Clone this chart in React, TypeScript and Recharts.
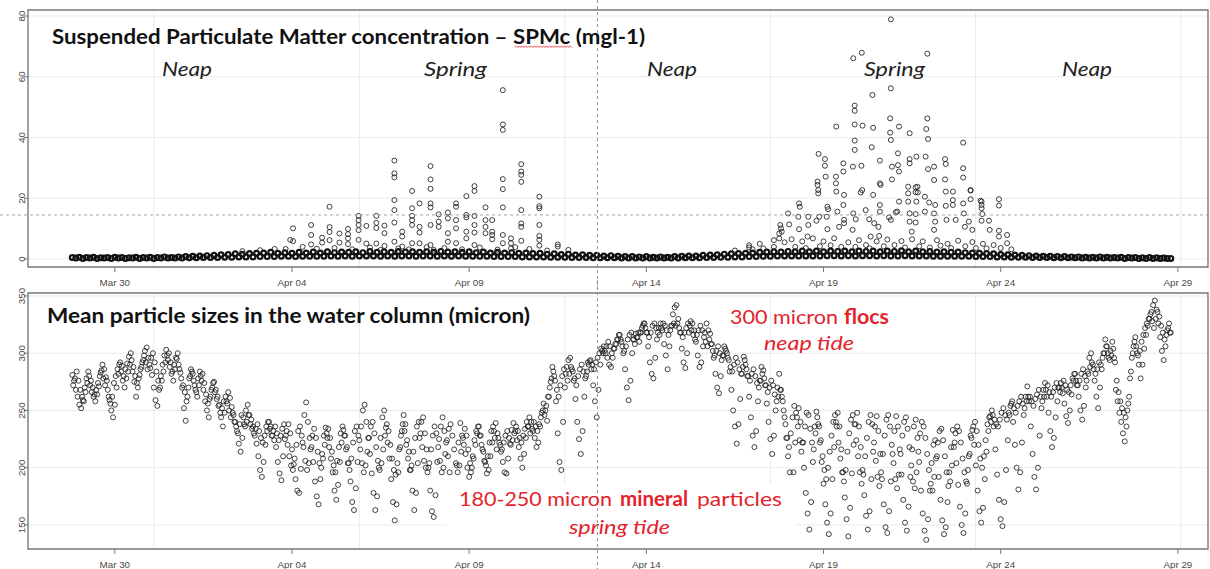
import React from 'react';
import { ScatterChart, Scatter, XAxis, YAxis, CartesianGrid, ReferenceLine, ReferenceArea } from 'recharts';

// ---------- shared time axis (days since Mar 30, 00:00) ----------
const dayTicks = [0, 5, 10, 15, 20, 25, 30];
const dayTickLabels = ['Mar 30', 'Apr 04', 'Apr 09', 'Apr 14', 'Apr 19', 'Apr 24', 'Apr 29'];
const gridDays = [1.1, 6.9, 12.7, 18.5, 24.29, 30.08];
const xDomain: [number, number] = [-2.45, 30.85];
const splitDay = 13.62;

// ---------- SPMc panel ----------
const spmTicks = [0, 20, 40, 60, 80];
const spmDomain: [number, number] = [-2.63, 81.98];
const spmThreshold = 14.5;
const spmBaseStart = -1.2;
const spmBaseStep = 0.1;
const spmBase = [
  0.5, 0.3, 0.6, 0.2, 0.5, 0.3, 0.6, 0.2, 0.4, 0.3,
  0.5, 0.2, 0.6, 0.3, 0.5, 0.2, 0.4, 0.3, 0.6, 0.2,
  0.5, 0.3, 0.6, 0.2, 0.5, 0.3, 0.7, 0.3, 0.5, 0.3,
  0.7, 0.3, 0.8, 0.4, 0.9, 0.4, 1.0, 0.5, 1.1, 0.5,
  1.2, 0.5, 1.4, 0.6, 1.5, 0.6, 1.7, 0.7, 1.6, 0.7,
  1.8, 0.7, 1.9, 0.8, 2.0, 0.8, 2.2, 0.8, 1.9, 0.9,
  2.1, 0.9, 1.9, 0.8, 2.2, 0.9, 2.0, 0.9, 2.3, 0.9,
  2.0, 0.9, 2.4, 1.0, 2.1, 0.9, 2.3, 1.0, 2.2, 0.9,
  2.4, 1.0, 2.1, 1.0, 2.5, 1.0, 2.2, 0.9, 2.4, 1.0,
  2.2, 0.9, 2.5, 1.0, 2.3, 1.0, 2.4, 0.9, 2.2, 1.0,
  2.4, 1.0, 2.2, 0.9, 2.5, 1.0, 2.3, 0.9, 2.4, 1.0,
  2.2, 0.9, 2.4, 0.9, 2.1, 0.9, 2.3, 0.9, 2.0, 0.8,
  2.2, 0.8, 2.0, 0.8, 2.1, 0.8, 1.9, 0.7, 2.0, 0.7,
  1.8, 0.7, 1.9, 0.7, 1.6, 0.6, 1.7, 0.6, 1.5, 0.6,
  1.6, 0.5, 1.3, 0.5, 1.4, 0.5, 1.2, 0.4, 1.2, 0.4,
  1.0, 0.4, 1.1, 0.4, 0.9, 0.3, 0.8, 0.3, 0.8, 0.3,
  0.7, 0.3, 0.8, 0.3, 0.6, 0.3, 0.7, 0.3, 0.6, 0.3,
  0.8, 0.3, 0.9, 0.4, 1.0, 0.4, 1.0, 0.4, 1.2, 0.5,
  1.3, 0.5, 1.4, 0.6, 1.6, 0.6, 1.7, 0.7, 1.8, 0.7,
  1.9, 0.8, 2.0, 0.8, 2.2, 0.9, 2.3, 0.9, 2.4, 1.0,
  2.3, 1.0, 2.5, 1.0, 2.4, 1.0, 2.6, 1.0, 2.4, 1.0,
  2.6, 1.0, 2.4, 1.1, 2.6, 1.1, 2.5, 1.0, 2.6, 1.1,
  2.4, 1.0, 2.6, 1.1, 2.5, 1.1, 2.6, 1.0, 2.4, 1.1,
  2.6, 1.0, 2.5, 1.0, 2.7, 1.1, 2.4, 1.0, 2.6, 1.0,
  2.4, 1.0, 2.5, 0.9, 2.3, 0.9, 2.4, 0.9, 2.2, 0.9,
  2.3, 0.9, 2.1, 0.9, 2.0, 0.8, 1.9, 0.8, 1.8, 0.8,
  1.7, 0.7, 1.5, 0.7, 1.4, 0.6, 1.3, 0.6, 1.2, 0.6,
  1.1, 0.5, 1.0, 0.5, 0.9, 0.5, 0.9, 0.4, 0.8, 0.4,
  0.8, 0.4, 0.7, 0.4, 0.7, 0.3, 0.6, 0.3, 0.6, 0.3,
  0.7, 0.3, 0.6, 0.3, 0.5, 0.3, 0.6, 0.2, 0.5, 0.3,
  0.5, 0.2, 0.4, 0.2, 0.5, 0.2, 0.4, 0.2, 0.3, 0.2, 0.2,
];
// [day, mg/l] scattered spring-tide points (first spring)
const spmSpring1 = [
  [3.6, 2.6], [4.1, 2.9], [4.51, 3.3], [4.82, 3.3], [4.95, 6.3], [5.03, 10.1], [5.03, 5.9], [5.3, 4.0],
  [5.54, 11.2], [5.54, 7.9], [5.54, 4.8], [5.7, 3.4], [5.85, 7.0], [5.85, 5.4],
  [6.06, 17.2], [6.06, 10.5], [6.06, 8.9], [6.06, 6.2], [6.2, 3.6], [6.34, 8.4], [6.34, 5.4],
  [6.58, 9.9], [6.58, 8.2], [6.58, 6.8], [6.58, 4.9], [6.7, 3.2],
  [6.88, 14.2], [6.88, 12.8], [6.88, 11.2], [6.88, 9.5], [6.88, 6.3], [7.1, 10.9], [7.1, 5.1], [7.2, 3.8],
  [7.38, 14.2], [7.38, 11.9], [7.38, 10.2], [7.38, 5.1], [7.5, 3.0], [7.61, 8.5], [7.61, 11.0], [7.61, 4.3],
  [7.89, 32.4], [7.89, 28.2], [7.89, 26.9], [7.89, 19.4], [7.89, 16.1], [7.89, 12.0], [7.89, 5.7], [8.0, 3.5],
  [8.11, 9.0], [8.11, 7.4], [8.11, 4.1], [8.3, 3.2],
  [8.39, 22.4], [8.39, 16.7], [8.39, 14.2], [8.39, 12.8], [8.39, 11.2], [8.39, 5.2],
  [8.6, 18.3], [8.6, 10.6], [8.6, 8.7], [8.6, 5.2], [8.8, 3.9],
  [8.91, 30.6], [8.91, 26.2], [8.91, 23.1], [8.91, 18.3], [8.91, 17.0], [8.91, 11.2], [8.91, 4.6], [9.0, 3.0],
  [9.14, 14.7], [9.14, 12.3], [9.14, 10.6], [9.3, 3.6],
  [9.4, 15.3], [9.4, 13.4], [9.4, 8.5], [9.4, 5.7],
  [9.63, 18.3], [9.63, 17.2], [9.63, 12.8], [9.63, 10.1], [9.63, 5.2], [9.8, 3.2],
  [9.92, 20.7], [9.92, 14.5], [9.92, 13.7], [9.92, 9.0], [9.92, 6.8],
  [10.15, 24.0], [10.15, 22.4], [10.15, 14.2], [10.15, 11.2], [10.15, 8.7], [10.15, 4.6], [10.3, 3.8],
  [10.46, 17.0], [10.46, 12.8], [10.46, 10.6], [10.46, 8.5],
  [10.65, 12.8], [10.65, 9.0], [10.65, 7.9], [10.65, 6.5], [10.8, 3.1],
  [10.95, 55.6], [10.95, 44.3], [10.95, 42.5], [10.95, 26.3], [10.95, 23.0], [10.95, 17.0], [10.95, 7.9], [10.95, 5.2],
  [11.18, 6.8], [11.18, 5.2], [11.18, 3.5], [11.3, 3.9],
  [11.47, 31.2], [11.47, 28.8], [11.47, 27.7], [11.47, 25.4], [11.47, 16.1], [11.47, 11.7], [11.47, 10.6], [11.47, 6.0],
  [11.7, 3.3], [11.98, 20.5], [11.98, 17.4], [11.98, 16.7], [11.98, 11.2], [11.98, 7.6], [11.98, 6.3], [11.98, 4.4],
  [12.2, 2.8], [12.5, 4.8], [12.5, 4.1], [12.8, 3.0],
];
// second spring
const spmSpring2 = [
  [17.5, 2.8], [17.9, 4.5], [17.9, 3.8], [18.0, 3.2], [18.2, 5.0], [18.3, 3.5], [18.6, 6.2], [18.6, 4.0],
  [18.75, 8.4], [18.75, 6.8], [18.78, 11.2], [18.8, 10.1], [18.82, 9.0], [18.9, 5.5], [19.0, 15.0], [19.03, 11.4],
  [19.1, 6.5], [19.2, 4.0], [19.29, 13.9], [19.31, 18.3], [19.33, 17.2], [19.31, 9.8], [19.4, 5.8], [19.5, 3.6],
  [19.57, 13.9], [19.57, 11.2], [19.55, 7.4], [19.7, 6.8], [19.8, 12.6], [19.88, 13.9],
  [19.83, 25.5], [19.83, 24.4], [19.85, 22.7], [19.85, 21.6], [19.86, 34.6], [19.9, 4.2],
  [20.0, 5.8], [20.04, 32.9], [20.04, 30.7], [20.06, 27.1], [20.11, 17.2], [20.13, 16.4], [20.09, 13.9], [20.11, 9.8],
  [20.2, 4.5], [20.3, 6.8], [20.35, 27.1], [20.35, 24.9], [20.36, 22.2], [20.36, 43.6], [20.39, 15.6], [20.44, 10.6],
  [20.5, 4.0], [20.56, 31.5], [20.56, 28.8], [20.58, 21.1], [20.56, 17.8], [20.58, 12.9], [20.58, 11.8], [20.7, 5.5],
  [20.83, 30.4], [20.84, 66.1], [20.84, 15.0], [20.82, 9.6], [20.88, 50.5], [20.88, 48.8], [20.88, 44.3],
  [20.88, 39.0], [20.88, 35.9], [20.91, 13.1], [20.9, 4.0], [21.0, 6.2],
  [21.07, 30.7], [21.09, 22.7], [21.05, 21.9], [21.08, 67.9], [21.1, 43.9], [21.19, 16.1], [21.2, 4.6],
  [21.29, 13.1], [21.3, 3.5], [21.33, 7.4], [21.36, 36.8], [21.38, 54.0], [21.4, 43.2], [21.4, 21.1],
  [21.43, 11.8], [21.5, 5.8], [21.59, 32.4], [21.59, 24.9], [21.61, 24.4], [21.59, 17.8], [21.59, 15.6],
  [21.55, 10.6], [21.57, 7.6], [21.7, 4.2], [21.8, 6.4], [21.85, 13.7],
  [21.88, 46.3], [21.88, 41.6], [21.9, 39.2], [21.9, 56.2], [21.9, 78.9], [21.9, 12.9], [21.93, 30.4], [21.93, 26.2],
  [22.0, 4.6], [22.04, 15.4], [22.08, 15.6], [22.1, 34.8], [22.1, 30.9], [22.13, 43.6], [22.13, 28.8], [22.13, 18.9],
  [22.2, 5.9], [22.3, 3.8], [22.39, 23.8], [22.39, 21.6], [22.39, 18.9], [22.43, 41.4], [22.43, 32.9], [22.43, 31.5],
  [22.43, 15.0], [22.43, 12.3], [22.49, 9.0], [22.5, 6.5], [22.6, 23.6], [22.6, 22.0], [22.62, 18.9], [22.6, 14.8],
  [22.6, 12.0], [22.62, 33.7], [22.65, 23.8], [22.66, 21.9], [22.7, 4.2], [22.8, 5.8], [22.86, 20.5], [22.86, 15.6],
  [22.88, 33.7], [22.9, 42.8], [22.93, 46.3], [22.93, 67.6], [22.95, 39.5], [22.95, 29.6], [22.98, 18.6],
  [23.0, 3.8], [23.12, 30.4], [23.12, 26.0], [23.15, 17.8], [23.12, 15.0], [23.15, 12.3], [23.12, 9.6], [23.2, 6.2],
  [23.3, 4.4], [23.43, 32.9], [23.45, 31.3], [23.43, 26.2], [23.45, 22.2], [23.45, 17.5], [23.47, 12.9], [23.5, 5.0],
  [23.6, 3.6], [23.65, 22.2], [23.65, 19.4], [23.65, 17.8], [23.73, 12.9], [23.8, 6.0],
  [23.94, 38.3], [23.94, 29.9], [23.94, 26.8], [23.94, 18.3], [23.96, 15.0], [23.99, 10.6], [24.0, 4.2],
  [24.15, 22.5], [24.15, 19.7], [24.15, 22.7], [24.1, 12.3], [24.2, 9.6], [24.2, 5.6], [24.3, 3.6],
  [24.43, 19.2], [24.46, 18.9], [24.46, 17.8], [24.46, 16.7], [24.48, 14.8], [24.46, 12.6], [24.5, 5.0], [24.6, 3.5],
  [24.67, 12.6], [24.69, 9.6], [24.8, 4.6], [24.95, 19.7], [24.95, 17.6], [24.95, 9.3], [24.95, 7.4], [25.0, 3.6],
  [25.18, 7.9], [25.18, 5.2], [25.3, 3.2],
];

// ---------- particle size panel ----------
const sizeTicks = [150, 200, 250, 300, 350];
const sizeDomain: [number, number] = [129, 352.6];
const sizeStep = 0.05;
// tidal sweep samples (microns), every 0.05 day from day -1.2
const sizeStartA = -1.2;
const sizeValuesA = [
  281, 276, 268, 262, 255, 252, 259, 270, 278, 284, 272, 266, 262, 258, 264, 271, 283, 290, 286, 279,
  268, 259, 250, 244, 255, 270, 282, 292, 289, 280, 286, 291, 297, 300, 284, 275, 262, 270, 281, 288,
  294, 302, 305, 296, 287, 281, 270, 259, 254, 268, 280, 290, 298, 303, 294, 288, 282, 276, 286, 295,
  290, 283, 270, 252, 241, 262, 278, 286, 282, 272, 266, 278, 284, 276, 268, 258, 250, 244, 262, 270,
  275, 268, 262, 255, 244, 236, 248, 258, 266, 261, 253, 246, 240, 232, 221, 214, 226, 238, 250, 255,
  246, 242, 236, 228, 221, 210, 198, 192, 205, 220, 232, 240, 236, 228, 224, 218, 205, 195, 189, 210,
  225, 232, 238, 230, 216, 203, 190, 180, 178, 199, 222, 246, 257, 240, 226, 218, 205, 188, 175, 168,
  190, 212, 228, 235, 226, 218, 208, 196, 180, 172, 185, 205, 222, 233, 228, 218, 204, 188, 170, 163,
  182, 205, 224, 236, 250, 255, 240, 226, 212, 195, 178, 163, 175, 200, 226, 244, 250, 235, 222, 208,
  190, 170, 154, 168, 196, 218, 232, 246, 238, 224, 214, 198, 180, 163, 178, 204, 226, 240, 244, 230,
  216, 200, 180, 162, 157, 176, 205, 225, 236, 244, 232, 222, 210, 196, 178, 170, 180, 202, 222, 239,
  228, 220, 212, 200, 192, 196, 210, 224, 232, 236, 228, 220, 214, 205, 195, 198, 210, 222, 232, 239,
  230, 222, 214, 205, 196, 195, 208, 221, 233, 239, 232, 224, 218, 208, 200, 212, 226, 236, 244, 240,
  232, 226, 218, 222, 236, 248, 256, 250, 241, 262, 275, 288, 280, 258, 230, 205, 198, 240, 270, 288,
  294, 296, 286, 276, 260, 240, 225, 212, 232, 262, 280, 292, 293, 286, 272, 258, 244, 268, 290, 302,
  306, 300, 296, 290, 288, 296, 304, 308, 312, 316, 310, 300, 286, 270, 259, 276, 300, 312, 317, 314,
  310, 318, 324, 326, 318, 306, 292, 282, 278, 296, 312, 322, 326, 320, 308, 298, 286, 306, 324, 334,
  340, 342, 330, 318, 304, 292, 287, 300, 318, 328, 326, 320, 310, 298, 288, 292, 306, 318, 326, 320,
  317, 308, 296, 282, 270, 265, 280, 298, 306, 302, 296, 284, 268, 250, 236, 221, 238, 260, 282, 297,
  290, 280, 262, 244, 228, 218, 232, 258, 276, 288, 285, 272, 256, 240, 225, 212, 228, 250, 270, 282,
  268, 258, 244, 226, 210, 196, 182, 196, 222, 244, 252, 240, 222, 200, 178, 160, 146, 170, 205, 236,
  249, 238, 222, 205, 186, 168, 152, 142, 160, 190, 218, 240, 248, 236, 216, 196, 174, 155, 140, 165,
  195, 220, 238, 248, 236, 218, 198, 176, 158, 146, 162, 190, 214, 236, 245, 232, 212, 190, 168, 148,
  143, 162, 188, 212, 232, 245, 236, 216, 194, 172, 152, 145, 166, 192, 216, 236, 242, 226, 205, 180,
  160, 145, 137, 155, 180, 204, 220, 224, 210, 192, 172, 154, 142, 148, 170, 196, 218, 233, 222, 204,
  185, 166, 150, 143, 160, 186, 210, 228, 233, 220, 202, 180, 162, 152, 165, 190, 214, 232, 245, 250,
  236, 216, 194, 172, 155, 149, 170, 198, 224, 246, 256, 240, 220, 200, 181, 196, 222, 246, 262, 271,
  258, 236, 212, 192, 181, 200, 228, 252, 268, 274, 262, 248, 232, 218, 226, 244, 258, 270, 274, 265,
  256, 245, 239, 250, 264, 276, 282, 272, 262, 250, 242, 254, 270, 284, 296, 300, 290, 276, 262, 252,
  270, 286, 300, 312, 306, 296, 302, 310, 296, 268, 258, 248, 240, 230, 223, 236, 256, 278, 296, 306,
  314, 300, 290, 278, 290, 304, 316, 324, 330, 336, 342, 346, 338, 326, 314, 302, 294, 306, 320, 326,
  318,
];
// interleaved samples (the dense core of the cloud), every 0.05 day from day -1.175
const sizeStartB = -1.175;
const sizeValuesB = [
  272, 278, 284, 276, 268, 262, 258, 266, 274, 280, 276, 270, 264, 268, 274, 280, 285, 278, 272, 276,
  262, 256, 262, 274, 280, 286, 290, 284, 276, 270, 278, 284, 290, 294, 288, 280, 274, 278, 286, 292,
  298, 292, 286, 290, 296, 300, 292, 284, 276, 270, 276, 284, 292, 298, 300, 292, 284, 290, 296, 300,
  286, 278, 272, 266, 258, 270, 280, 284, 276, 268, 262, 272, 280, 282, 274, 264, 256, 260, 268, 274,
  266, 260, 254, 248, 252, 258, 262, 256, 250, 244, 248, 240, 236, 230, 238, 246, 244, 236, 240, 246,
  238, 234, 230, 234, 238, 232, 226, 222, 228, 236, 240, 234, 228, 232, 236, 230, 224, 228, 234, 238,
  228, 220, 210, 202, 198, 208, 220, 232, 236, 228, 218, 206, 198, 204, 216, 228, 234, 226, 214, 204,
  200, 208, 220, 230, 234, 226, 214, 202, 196, 206, 218, 230, 236, 228, 216, 204, 198, 208, 222, 232,
  236, 228, 216, 204, 196, 202, 214, 226, 236, 240, 230, 218, 206, 198, 204, 216, 228, 238, 232, 220,
  208, 198, 194, 204, 216, 228, 238, 232, 220, 208, 198, 202, 214, 226, 236, 240, 230, 218, 206, 200,
  196, 204, 216, 228, 236, 230, 218, 206, 196, 200, 212, 224, 234, 238, 228, 216, 204, 196, 202, 214,
  226, 234, 228, 216, 204, 200, 208, 220, 230, 236, 228, 216, 206, 202, 210, 222, 232, 236, 226, 216,
  226, 220, 216, 222, 228, 232, 226, 220, 224, 230, 236, 232, 226, 222, 228, 234, 240, 236, 230, 234,
  240, 236, 232, 238, 244, 250, 246, 254, 262, 270, 278, 284, 276, 268, 262, 272, 280, 286, 282, 276,
  282, 288, 284, 278, 272, 280, 286, 290, 284, 278, 284, 290, 294, 290, 286, 292, 296, 300, 304, 300,
  302, 306, 310, 306, 300, 304, 308, 312, 316, 312, 306, 302, 306, 312, 316, 318, 312, 308, 314, 318,
  318, 322, 326, 322, 318, 314, 318, 324, 326, 322, 318, 316, 322, 326, 324, 320, 316, 320, 324, 326,
  324, 326, 322, 318, 314, 318, 322, 326, 324, 320, 316, 312, 316, 320, 324, 320, 314, 310, 306, 312,
  308, 302, 298, 302, 306, 300, 294, 298, 304, 300, 294, 288, 284, 290, 296, 292, 286, 282, 288, 294,
  286, 280, 276, 282, 286, 280, 274, 270, 276, 282, 278, 272, 266, 270, 276, 272, 264, 258, 262, 268,
  262, 250, 238, 226, 218, 230, 244, 254, 248, 236, 224, 214, 222, 236, 248, 246, 234, 222, 216, 230,
  244, 236, 224, 210, 198, 190, 200, 214, 228, 240, 246, 236, 222, 208, 196, 188, 198, 214, 230, 242,
  246, 238, 224, 210, 196, 186, 194, 210, 226, 240, 246, 238, 222, 206, 192, 184, 196, 212, 228, 242,
  246, 236, 220, 204, 190, 182, 194, 212, 228, 240, 244, 234, 218, 202, 188, 182, 196, 214, 230, 240,
  236, 226, 212, 198, 186, 180, 192, 208, 222, 232, 234, 224, 210, 196, 184, 188, 202, 218, 230, 236,
  232, 222, 208, 196, 188, 198, 212, 226, 236, 240, 232, 220, 208, 200, 210, 224, 238, 244, 240, 246,
  242, 238, 236, 242, 248, 252, 246, 242, 248, 254, 258, 252, 248, 254, 258, 262, 256, 252, 258, 262,
  262, 258, 254, 260, 264, 268, 262, 258, 262, 268, 272, 266, 262, 266, 270, 274, 270, 266, 270, 276,
  272, 268, 266, 272, 278, 282, 276, 272, 276, 282, 286, 280, 276, 282, 288, 292, 286, 282, 286, 292,
  290, 296, 300, 306, 300, 294, 298, 304, 292, 276, 266, 258, 252, 248, 244, 250, 262, 284, 300, 310,
  306, 298, 302, 310, 316, 322, 326, 330, 334, 328, 322, 330, 336, 332, 324, 318, 312, 316, 322, 318,
];
// white label box behind the "mineral particles" note (data units of the lower panel)
const noteBoxDays: [number, number] = [9.36, 19.23];
const noteBoxSize: [number, number] = [130, 185.5];

// ---------- derived tables ----------
const spmBaseData = spmBase.map((v, i) => ({ x: spmBaseStart + i * spmBaseStep, y: v }));
const spmSpringData = [...spmSpring1, ...spmSpring2].map(([d, v]) => ({ x: d, y: v }));
const sizeDataA = sizeValuesA.map((v, i) => ({ x: sizeStartA + i * sizeStep, y: v }));
const sizeDataB = sizeValuesB.map((v, i) => ({ x: sizeStartB + i * sizeStep, y: v }));

const W = 1210;
const TOP_H = 290;
const BOT_TOP = 280;
const BOT_H = 289;
const AXIS_FONT = "'Liberation Sans', Arial, sans-serif";
const ANNOT_FONT = "Lato, 'Open Sans', sans-serif";
const RED = '#e4222b';

const ring = (r: number, sw: number, color: string, op: number) => (props: any) => {
  const { cx, cy } = props;
  if (cx == null || cy == null) return <g />;
  return <circle cx={cx} cy={cy} r={r} fill="none" stroke={color} strokeOpacity={op} strokeWidth={sw} />;
};

const xTick = (props: any) => {
  const { x, y, payload } = props;
  const idx = dayTicks.indexOf(payload.value);
  return (
    <text x={x} y={y + 8} textAnchor="middle" dominantBaseline="central" fontSize={9.8} fontFamily={AXIS_FONT} fill="#4a4a4a">
      {idx >= 0 ? dayTickLabels[idx] : ''}
    </text>
  );
};

const yTick = (props: any) => {
  const { x, y, payload } = props;
  return (
    <text x={x} y={y} transform={`rotate(-90 ${x} ${y})`} textAnchor="middle" dominantBaseline="central" fontSize={9.8} fontFamily={AXIS_FONT} fill="#4a4a4a">
      {payload.value}
    </text>
  );
};

const vDash = (h: number) => (p: any) => (
  <line x1={p.x1} x2={p.x2} y1={0} y2={h} stroke="#8a8a8a" strokeWidth={0.9} strokeDasharray="3 3" />
);
const hDash = (p: any) => (
  <line x1={0} x2={W} y1={p.y1} y2={p.y2} stroke="#9a9a9a" strokeWidth={0.9} strokeDasharray="3 3" />
);

const gridLines = gridDays.map((d) => (
  <ReferenceLine key={'g' + d} x={d} stroke="#ebebeb" strokeWidth={1} zIndex={-50} />
));

function TopPanel() {
  return (
    <ScatterChart width={W} height={TOP_H} margin={{ top: 10, right: 2, bottom: 0, left: 0 }}>
      <CartesianGrid vertical={false} stroke="#ebebeb" />
      {gridLines}
      <XAxis type="number" dataKey="x" domain={xDomain} ticks={dayTicks} interval={0} allowDataOverflow height={23}
        tick={xTick} tickSize={5} axisLine={false} tickLine={{ stroke: '#777' }} />
      <YAxis type="number" dataKey="y" domain={spmDomain} ticks={spmTicks} interval={0} allowDataOverflow width={28}
        tick={yTick} tickSize={4} axisLine={false} tickLine={{ stroke: '#777' }} />
      <ReferenceArea x1={xDomain[0]} x2={xDomain[1]} y1={spmDomain[0]} y2={spmDomain[1]} fill="none" stroke="#7a7a7a" strokeWidth={1.4} fillOpacity={0} zIndex={0} />
      <Scatter data={spmBaseData} shape={ring(2.4, 2.2, '#111', 1)} isAnimationActive={false} />
      <Scatter data={spmSpringData} shape={ring(2.5, 1.0, '#1e1e1e', 0.85)} isAnimationActive={false} />
      <ReferenceLine y={spmThreshold} shape={hDash} zIndex={1600} />
      <ReferenceLine x={splitDay} shape={vDash(TOP_H)} zIndex={1600} />
    </ScatterChart>
  );
}

function BottomPanel() {
  return (
    <ScatterChart width={W} height={BOT_H} margin={{ top: 13, right: 2, bottom: 0, left: 0 }}>
      <CartesianGrid vertical={false} stroke="#ebebeb" />
      {gridLines}
      <XAxis type="number" dataKey="x" domain={xDomain} ticks={dayTicks} interval={0} allowDataOverflow height={20}
        tick={xTick} tickSize={5} axisLine={false} tickLine={{ stroke: '#777' }} />
      <YAxis type="number" dataKey="y" domain={sizeDomain} ticks={sizeTicks} interval={0} allowDataOverflow width={28}
        tick={yTick} tickSize={4} axisLine={false} tickLine={{ stroke: '#777' }} />
      <ReferenceArea x1={xDomain[0]} x2={xDomain[1]} y1={sizeDomain[0]} y2={sizeDomain[1]} fill="none" stroke="#7a7a7a" strokeWidth={1.4} fillOpacity={0} zIndex={0} />
      <Scatter data={sizeDataA} shape={ring(2.5, 1.0, '#222', 0.85)} isAnimationActive={false} />
      <Scatter data={sizeDataB} shape={ring(2.5, 1.0, '#222', 0.85)} isAnimationActive={false} />
      <ReferenceArea x1={noteBoxDays[0]} x2={noteBoxDays[1]} y1={noteBoxSize[0]} y2={noteBoxSize[1]} fill="#ffffff" fillOpacity={1} stroke="none" zIndex={1500} />
      <ReferenceLine x={splitDay} shape={vDash(BOT_H)} zIndex={1600} />
    </ScatterChart>
  );
}

const wavy = 'M515,47.5 ' + Array.from({ length: 19 }, () => 'l1.5,-1.6 l1.5,1.6').join(' ');

function Annotations() {
  const t = { fontFamily: ANNOT_FONT, lengthAdjust: 'spacingAndGlyphs' as const };
  return (
    <svg width={W} height={569} style={{ position: 'absolute', left: 0, top: 0, pointerEvents: 'none' }}>
      <text x={52} y={44} fontSize={21} fontWeight={700} fill="#111" textLength={593} {...t}>
        Suspended Particulate Matter concentration – SPMc (mgl-1)
      </text>
      <path d={wavy} fill="none" stroke={RED} strokeWidth={0.8} />
      <text x={162} y={76} fontSize={20} fontStyle="italic" fill="#222" textLength={50} {...t}>Neap</text>
      <text x={424} y={76} fontSize={20} fontStyle="italic" fill="#222" textLength={63} {...t}>Spring</text>
      <text x={647} y={76} fontSize={20} fontStyle="italic" fill="#222" textLength={50} {...t}>Neap</text>
      <text x={864} y={76} fontSize={20} fontStyle="italic" fill="#222" textLength={61} {...t}>Spring</text>
      <text x={1062} y={76} fontSize={20} fontStyle="italic" fill="#222" textLength={50} {...t}>Neap</text>

      <text x={47} y={323} fontSize={20.5} fontWeight={700} fill="#111" textLength={483} {...t}>
        Mean particle sizes in the water column (micron)
      </text>

      <text x={730} y={324} fontSize={20} fill={RED} textLength={108} {...t}>300 micron</text>
      <text x={844} y={324} fontSize={20} fontWeight={700} fill={RED} textLength={45} {...t}>flocs</text>
      <text x={764} y={350} fontSize={20} fontStyle="italic" fill={RED} textLength={90} {...t}>neap tide</text>

      <text x={459} y={506} fontSize={20} fill={RED} textLength={153} {...t}>180-250 micron</text>
      <text x={620} y={506} fontSize={20} fontWeight={700} fill={RED} textLength={68} {...t}>mineral</text>
      <text x={697} y={506} fontSize={20} fill={RED} textLength={85} {...t}>particles</text>
      <text x={569} y={534} fontSize={20} fontStyle="italic" fill={RED} textLength={101} {...t}>spring tide</text>
    </svg>
  );
}

export default function App() {
  return (
    <div style={{ position: 'absolute', left: 0, top: 0, width: W, height: 569, background: '#fff', overflow: 'hidden' }}>
      <div style={{ position: 'absolute', left: 0, top: 0 }}>
        <TopPanel />
      </div>
      <div style={{ position: 'absolute', left: 0, top: BOT_TOP }}>
        <BottomPanel />
      </div>
      <Annotations />
    </div>
  );
}
